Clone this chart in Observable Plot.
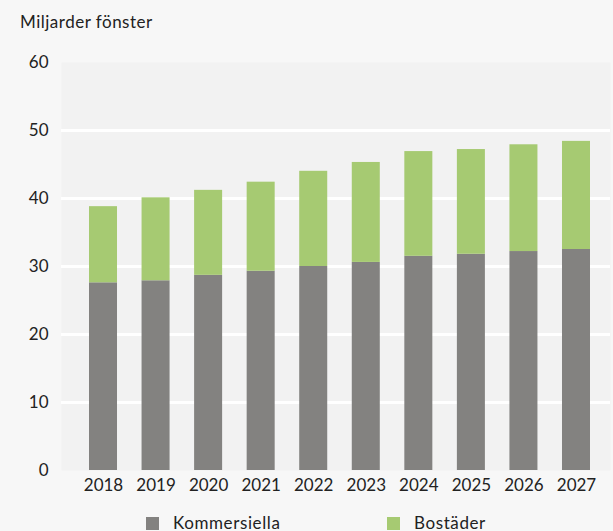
<!DOCTYPE html>
<html>
<head>
<meta charset="utf-8">
<script src="https://cdn.jsdelivr.net/npm/d3@7"></script>
<script src="https://cdn.jsdelivr.net/npm/@observablehq/plot@0.6"></script>
<style>
  html, body { margin: 0; padding: 0; background: #f7f7f7; overflow: hidden; }
  body { width: 613px; height: 531px; font-family: Lato, "Open Sans", sans-serif; color: #222; }
  #title { height: 40px; position: relative; }
  #title span { position: absolute; left: 20px; top: 13px; font-size: 17px; line-height: 17px; letter-spacing: 0.5px; white-space: nowrap; }
  #legend { position: relative; height: 31px; }
  .sw { position: absolute; top: 17px; width: 13px; height: 13px; }
  .lt { position: absolute; top: 14px; font-size: 17px; line-height: 17px; letter-spacing: 0.6px; white-space: nowrap; }
  svg { display: block; }
</style>
</head>
<body>
<div id="title"><span>Miljarder fönster</span></div>
<div id="chart"></div>
<div id="legend"></div>
<script>
const years = ["2018","2019","2020","2021","2022","2023","2024","2025","2026","2027"];
const seriesNames = ["Kommersiella", "Bostäder"];
const seriesColors = ["#838280", "#a6ca72"];
const kommersiella = [27.6, 27.9, 28.7, 29.3, 30.0, 30.6, 31.5, 31.8, 32.2, 32.5];
const bostader = [11.2, 12.2, 12.5, 13.1, 14.0, 14.7, 15.4, 15.4, 15.7, 15.9];
const yTicks = [0, 10, 20, 30, 40, 50, 60];
const gridTicks = [10, 20, 30, 40, 50];

const data = [];
years.forEach((y, i) => data.push({year: y, series: seriesNames[0], value: kommersiella[i]}));
years.forEach((y, i) => data.push({year: y, series: seriesNames[1], value: bostader[i]}));

const chart = Plot.plot({
  width: 613,
  height: 460,
  marginLeft: 61,
  marginRight: 3,
  marginTop: 22,
  marginBottom: 30,
  style: {background: "transparent", fontFamily: "Lato, 'Open Sans', sans-serif", fontSize: "17px", color: "#222"},
  x: {domain: years, range: [89, 590], paddingInner: 0.467, paddingOuter: 0, round: false, label: null, tickSize: 0, tickPadding: 8},
  y: {domain: [0, 60], ticks: yTicks, label: null, tickSize: 0, tickPadding: 13},
  color: {domain: seriesNames, range: seriesColors},
  marks: [
    Plot.frame({fill: "#f2f2f2", stroke: "none"}),
    Plot.ruleY(gridTicks, {stroke: "#ffffff", strokeWidth: 3}),
    Plot.barY(data, {x: "year", y: "value", fill: "series"})
  ]
});
document.getElementById("chart").appendChild(chart);

const legend = document.getElementById("legend");
const swX = [146, 387];
const txX = [173, 414];
seriesNames.forEach((n, i) => {
  const s = document.createElement("div");
  s.className = "sw";
  s.style.left = swX[i] + "px";
  s.style.background = seriesColors[i];
  legend.appendChild(s);
  const t = document.createElement("div");
  t.className = "lt";
  t.style.left = txX[i] + "px";
  t.textContent = n;
  legend.appendChild(t);
});
</script>
</body>
</html>
